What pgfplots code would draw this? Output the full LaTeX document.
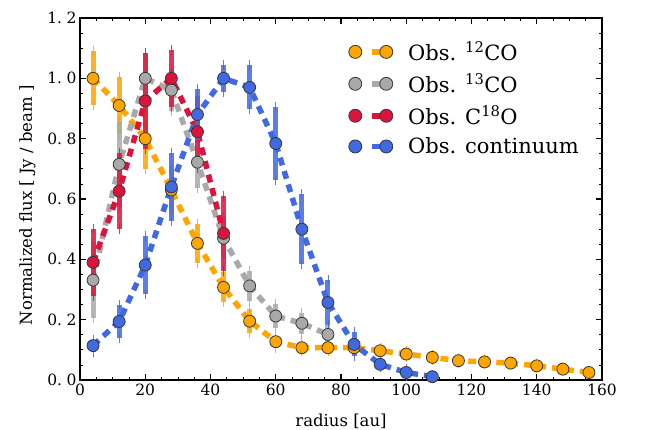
\documentclass[border=0pt]{standalone}
\usepackage{fontspec}
\setmainfont{DejaVu Serif}
\usepackage{pgfplots}
\usepackage{pgfplotstable}
\pgfplotsset{compat=1.18}
\definecolor{cOrange}{RGB}{255,165,0}
\definecolor{cGray}{RGB}{169,169,169}
\definecolor{cRed}{RGB}{220,20,60}
\definecolor{cBlue}{RGB}{65,105,225}
\definecolor{cEdge}{RGB}{55,55,55}

\pgfplotstableread{
x y e
4 1.00 0.09
12 0.91 0.095
20 0.80 0.10
28 0.63 0.08
36 0.453 0.065
44 0.307 0.05
52 0.195 0.04
60 0.127 0.02
68 0.107 0.012
76 0.107 0.012
84 0.107 0.012
92 0.097 0.01
100 0.086 0.01
108 0.075 0.008
116 0.064 0.008
124 0.060 0.008
132 0.056 0.007
140 0.047 0.007
148 0.036 0.006
156 0.025 0.006
}\tabA

\pgfplotstableread{
x y e
4 0.331 0.125
12 0.715 0.14
20 1.00 0.085
28 0.961 0.07
36 0.722 0.085
44 0.47 0.07
52 0.312 0.05
60 0.212 0.04
68 0.188 0.035
76 0.151 0.03
}\tabB

\pgfplotstableread{
x y e
4 0.39 0.11
12 0.626 0.125
20 0.925 0.16
28 1.00 0.095
36 0.823 0.12
44 0.486 0.125
}\tabC

\pgfplotstableread{
x y e
4 0.114 0.02
12 0.194 0.055
20 0.381 0.095
28 0.64 0.113
36 0.88 0.083
44 1.00 0.045
52 0.97 0.073
60 0.784 0.12
68 0.50 0.115
76 0.257 0.075
84 0.118 0.04
92 0.052 0.01
100 0.025 0.012
108 0.011 0.005
}\tabD

\newcommand{\legimg}[1]{%
  \draw[solid, line width=5.5pt, #1] (17pt,0pt) -- (28pt,0pt);
  \draw[solid, fill=#1, draw=cEdge, line width=0.8pt] (0pt,0pt) circle (6.5pt) (31pt,0pt) circle (6.5pt);}

\begin{document}
\begin{tikzpicture}
\useasboundingbox (-80pt,-49pt) rectangle (566pt,380pt);
\begin{axis}[
  at={(0pt,0pt)}, anchor=south west,
  scale only axis, width=522pt, height=362pt,
  xmin=0, xmax=160, ymin=0, ymax=1.2,
  xtick={0,20,...,160},
  ytick={0,0.2,0.4,0.6,0.8,1.0,1.2},
  /pgf/number format/assume math mode=true,
  tick label style={font=\fontsize{15.5}{18}\selectfont},
  yticklabel style={/pgf/number format/.cd, fixed, fixed zerofill, precision=1,
    dec sep={.\hspace{4.5pt}}, assume math mode=true},
  minor x tick num=3, minor y tick num=3,
  tick align=inside, xtick pos=both, ytick pos=both,
  major tick length=6pt, minor tick length=3pt,
  major tick style={black, line width=1.1pt},
  minor tick style={black, line width=0.7pt},
  axis line style={line width=1.5pt},
  xlabel={\fontsize{16.5}{19}\selectfont radius [au]},
  ylabel={\fontsize{16.5}{19}\selectfont Normalized flux [ Jy / beam ]},
  xlabel style={at={(axis description cs:0.5,0)}, anchor=base, yshift=-46pt},
  ylabel style={at={(axis description cs:0,0.483)}, anchor=base, yshift=48pt},
  legend style={draw=none, fill=none, at={(axis cs:82.2,1.128)}, anchor=north west,
    font=\fontsize{21}{25}\selectfont, row sep=8pt, column sep=13pt, inner sep=0pt},
  legend cell align=left,
  every axis plot/.append style={line width=5.5pt, dash pattern=on 8pt off 6pt},
  error bars/error bar style={solid, line width=5pt, opacity=0.85},
  error bars/error mark options={solid, line width=0.8pt, mark size=5pt, opacity=0.85},
]
\addplot[cOrange, mark=*, mark size=6pt, mark options={solid, fill=cOrange, draw=cEdge, line width=0.8pt},
  legend image code/.code={\legimg{cOrange}},
  error bars/.cd, y dir=both, y explicit]
  table[x=x, y=y, y error=e] {\tabA};
\addlegendentry{Obs. \textsuperscript{12}CO}
\addplot[cGray, mark=*, mark size=6pt, mark options={solid, fill=cGray, draw=cEdge, line width=0.8pt},
  legend image code/.code={\legimg{cGray}},
  error bars/.cd, y dir=both, y explicit]
  table[x=x, y=y, y error=e] {\tabB};
\addlegendentry{Obs. \textsuperscript{13}CO}
\addplot[cRed, mark=*, mark size=6pt, mark options={solid, fill=cRed, draw=cEdge, line width=0.8pt},
  legend image code/.code={\legimg{cRed}},
  error bars/.cd, y dir=both, y explicit]
  table[x=x, y=y, y error=e] {\tabC};
\addlegendentry{Obs. C\textsuperscript{18}O}
\addplot[cBlue, mark=*, mark size=6pt, mark options={solid, fill=cBlue, draw=cEdge, line width=0.8pt},
  legend image code/.code={\legimg{cBlue}},
  error bars/.cd, y dir=both, y explicit]
  table[x=x, y=y, y error=e] {\tabD};
\addlegendentry{Obs. continuum}
\end{axis}
\end{tikzpicture}
\end{document}
